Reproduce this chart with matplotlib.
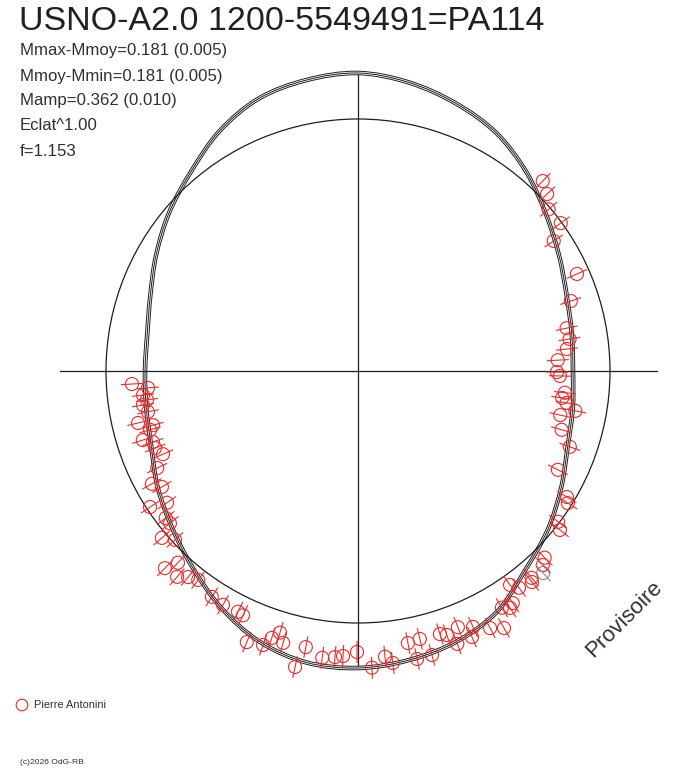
import numpy as np
import matplotlib
matplotlib.use("Agg")
import matplotlib.pyplot as plt
from matplotlib.path import Path
from matplotlib.patches import PathPatch, Circle
from matplotlib.collections import LineCollection

plt.rcParams['font.family'] = ['Liberation Sans', 'DejaVu Sans']

# ---- data (polar: angle clockwise from top in degrees, radius in plot units) ----
title = "USNO-A2.0 1200-5549491=PA114"
info_lines = ["Mmax-Mmoy=0.181 (0.005)", "Mmoy-Mmin=0.181 (0.005)",
              "Mamp=0.362 (0.010)", "Eclat^1.00", "f=1.153"]
observer = "Pierre Antonini"
footer = "(c)2026 OdG-RB"
watermark = "Provisoire"

mean_radius = 252
model_angle = [0, 10, 20, 30, 40, 50, 60, 70, 80, 90, 100, 110, 120, 130, 140, 150,
               160, 170, 180, 190, 200, 210, 220, 230, 240, 250, 260, 270, 280, 290,
               300, 310, 320, 330, 340, 350]
model_radius = [298, 293, 285, 275.5, 261, 245, 232, 222, 217, 215, 218, 223, 234.5,
                247.5, 260, 278, 288, 293.5, 297, 296, 288, 273.5, 257, 243, 231.5,
                220, 215, 213, 214, 221, 233, 246.5, 260, 277, 290, 295.5]

obs_angle = [44.2, 46.9, 49.7, 53.9, 56.4, 66.1, 71.8, 78.4, 81.4, 84, 86.9, 90.3, 91.4,
             96, 97.5, 98.7, 100.4, 102.3, 106.1, 109.7, 116.3, 121.1, 122.2, 127, 128.2,
             135, 136.4, 137.5, 140, 140.5, 144.6, 143.4, 146.3, 148.7, 147.3, 152.8,
             150.4, 158.7, 155.8, 156.8, 160, 162.7, 161.4, 167, 169.6, 165.4, 168.4,
             177.3, 174.6, 173.2, 180.2, 183, 184.6, 187.1, 190.7, 192, 195.4, 196.6,
             197.9, 199.1, 202.3, 205.2, 206.5, 210, 212.9, 217.4, 219.5, 221.3, 223.2,
             224.4, 227.3, 229.6, 231, 232.6, 236.8, 235.4, 239.4, 241.3, 244.2, 246.9,
             249.2, 250.9, 252.2, 254.2, 255.2, 256.7, 259, 261, 262.2, 263.6, 265.4,
             266.7]
obs_radius = [265, 259, 250, 251, 235, 239.5, 224, 213, 214, 210, 200, 199, 202,
              208, 206, 211, 221, 207, 212, 225, 223, 244, 248, 250.6, 257,
              264, 268, 274, 270, 273.5, 262.5, 270, 279, 277, 281.5, 289,
              295.6, 275, 280.6, 289.4, 290.4, 275.5, 278.6, 275, 276.6, 293.5, 294,
              297, 287, 294, 281, 285.4, 287, 289, 281, 302.6, 282, 273,
              280.5, 290, 293, 270, 269, 270, 269, 263, 267, 274, 263,
              276, 249, 257.5, 242, 242, 248.5, 232, 227.8, 235, 223, 212,
              217, 217, 226, 216, 212, 226, 214, 217.7, 213, 216.3, 210.7,
              226.4]
grey_points = [27]

# ---- figure ----
W, H = 688, 768
cx, cy = 358, 371
fig = plt.figure(figsize=(W / 100, H / 100), dpi=100)
ax = fig.add_axes([0, 0, 1, 1])
ax.set_xlim(-cx, W - cx)
ax.set_ylim(-(H - cy), cy)
ax.set_aspect('equal')
ax.axis('off')

dark = '#1e1e1e'
red = '#ee2a2a'

def to_xy(ang_deg, r):
    a = np.radians(np.asarray(ang_deg, float))
    r = np.asarray(r, float)
    return r * np.sin(a), r * np.cos(a)

# axes cross
ax.plot([-298, 299], [0, 0], color=dark, lw=0.9)
ax.plot([0, 0], [-294, 296], color=dark, lw=0.9)

# reference circle
ax.add_patch(Circle((0, 0), mean_radius, fill=False, ec=dark, lw=0.9))

# model curve (closed smooth curve through sampled values), drawn as triple line
def closed_smooth_path(xs, ys):
    P = np.column_stack([xs, ys])
    n = len(P)
    verts = [P[0]]
    codes = [Path.MOVETO]
    for i in range(n):
        p0, p1, p2, p3 = P[i - 1], P[i], P[(i + 1) % n], P[(i + 2) % n]
        c1 = p1 + (p2 - p0) / 6.0
        c2 = p2 - (p3 - p1) / 6.0
        verts += [c1, c2, p2]
        codes += [Path.CURVE4] * 3
    return Path(verts, codes)

for off in (-1.8, 0.0, 1.8):
    mx, my = to_xy(model_angle, np.asarray(model_radius) + off)
    ax.add_patch(PathPatch(closed_smooth_path(mx, my), fill=False, ec=dark, lw=0.7))

# observations with radial error bars
half = 11
a = np.radians(obs_angle)
r = np.asarray(obs_radius, float)
segs = []
for ai, ri in zip(a, r):
    segs.append([((ri - half) * np.sin(ai), (ri - half) * np.cos(ai)),
                 ((ri + half) * np.sin(ai), (ri + half) * np.cos(ai))])
cols = ['#8a8a8a' if i in grey_points else red for i in range(len(r))]
ax.add_collection(LineCollection(segs, colors=cols, linewidths=0.8))
ox, oy = to_xy(obs_angle, obs_radius)
ax.scatter(ox, oy, s=88, facecolors='none', edgecolors=cols, linewidths=0.8)

# texts (placed in pixel space)
def px(x, y):
    return x - cx, cy - y

ax.text(*px(19, 22), title, fontsize=24.5, color='#202020', va='center', ha='left')
for k, line in enumerate(info_lines):
    ax.text(*px(20, 51 + 25 * k), line, fontsize=12.1, color='#303030', va='center', ha='left')

ax.scatter(*px(22, 705), s=70, facecolors='none', edgecolors=red, linewidths=0.8)
ax.text(*px(34, 705), observer, fontsize=7.9, color='#303030', va='center', ha='left')
ax.text(*px(20, 763), footer, fontsize=6.1, color='#303030', va='center', ha='left')
ax.text(*px(624, 619), watermark, fontsize=16, color='#303030', rotation=45,
        va='center', ha='center', rotation_mode='anchor')

fig.savefig('out.png', dpi=100)
